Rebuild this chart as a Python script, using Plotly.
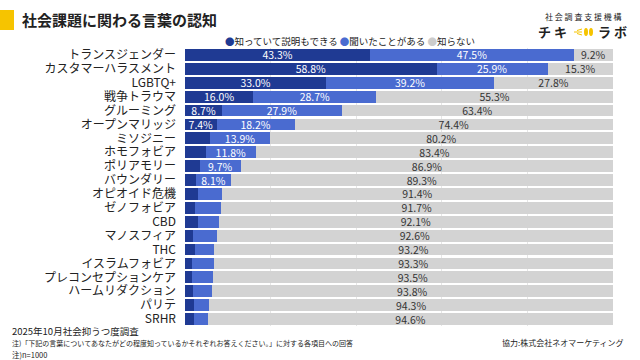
import plotly.graph_objects as go

categories = ["トランスジェンダー", "カスタマーハラスメント", "LGBTQ+", "戦争トラウマ", "グルーミング",
              "オープンマリッジ", "ミソジニー", "ホモフォビア", "ポリアモリー", "バウンダリー",
              "オピオイド危機", "ゼノフォビア", "CBD", "マノスフィア", "THC", "イスラムフォビア",
              "プレコンセプションケア", "ハームリダクション", "パリテ", "SRHR"]
known = [43.3, 58.8, 33.0, 16.0, 8.7, 7.4, 5.9, 4.8, 3.4, 2.6,
         3.0, 2.3, 3.0, 1.9, 2.3, 1.7, 1.6, 1.9, 2.0, 2.0]
heard = [47.5, 25.9, 39.2, 28.7, 27.9, 18.2, 13.9, 11.8, 9.7, 8.1,
         5.6, 6.0, 4.9, 5.5, 4.5, 5.0, 4.9, 4.3, 3.7, 3.4]
unknown = [9.2, 15.3, 27.8, 55.3, 63.4, 74.4, 80.2, 83.4, 86.9, 89.3,
           91.4, 91.7, 92.1, 92.6, 93.2, 93.3, 93.5, 93.8, 94.3, 94.6]
series_names = ["知っていて説明もできる", "聞いたことがある", "知らない"]
colors = ["#1f3a93", "#4a6bd0", "#d3d3d3"]
text_colors = ["white", "white", "#333333"]

FONT = "Noto Sans CJK JP"

def labels(vals):
    return [f"{v:.1f}%" if v >= 7 else "" for v in vals]

fig = go.Figure()
for name, vals, c, tc in zip(series_names, [known, heard, unknown], colors, text_colors):
    fig.add_trace(go.Bar(
        y=categories, x=vals, orientation="h", name=name,
        marker=dict(color=c, line=dict(width=0)),
        text=labels(vals), textposition="inside", insidetextanchor="middle",
        textangle=0, constraintext="none",
        textfont=dict(family=FONT, size=10.5, color=tc),
        showlegend=False, hoverinfo="x+y",
    ))

fig.update_layout(
    width=640, height=360,
    barmode="stack", bargap=0.15,
    margin=dict(l=185, r=27, t=48, b=34, autoexpand=False),
    paper_bgcolor="white", plot_bgcolor="white",
    font=dict(family=FONT, color="#222222"),
    xaxis=dict(range=[0, 100], showticklabels=False, showgrid=True, gridcolor="#e6e6e6",
               dtick=20, zeroline=False, showline=False, fixedrange=True),
    yaxis=dict(autorange="reversed", tickmode="array", tickvals=categories, ticktext=categories,
               tickfont=dict(family=FONT, size=12, color="#222222"),
               ticklabelstandoff=8, showgrid=False, showline=False, ticks="", automargin=False),
)

def px(xp):
    return (xp - 185) / 428
def py(yp):
    return 1 + (48 - yp) / 278

# title with yellow mark
fig.add_shape(type="rect", xref="paper", yref="paper", x0=px(0), x1=px(14),
              y0=py(30), y1=py(10), fillcolor="#f6c400", line=dict(width=0))
fig.add_annotation(text="<b>社会課題に関わる言葉の認知</b>", xref="paper", yref="paper",
                   x=px(20), y=py(20), xanchor="left", yanchor="middle",
                   showarrow=False, font=dict(family=FONT, size=15, color="#222222"))

# legend as text
leg = ("<span style='color:%s'>●</span>%s <span style='color:%s'>●</span>%s "
       "<span style='color:%s'>●</span>%s") % (colors[0], series_names[0], colors[1],
                                               series_names[1], "#cccccc", series_names[2])
fig.add_annotation(text=leg, xref="paper", yref="paper", x=px(223),
                   y=py(41), xanchor="left", yanchor="middle", showarrow=False,
                   font=dict(family=FONT, size=9.5, color="#222222"))

# logo
fig.add_annotation(text="社 会 調 査 支 援 機 構", xref="paper", yref="paper",
                   x=px(583), y=py(16), xanchor="center", yanchor="middle",
                   showarrow=False, font=dict(family=FONT, size=8, color="#222222"))
fig.add_annotation(text="<b>チ キ</b>", xref="paper", yref="paper",
                   x=px(552), y=py(32), xanchor="center", yanchor="middle",
                   showarrow=False, font=dict(family=FONT, size=13, color="#222222"))
fig.add_annotation(text="<b>ラ ボ</b>", xref="paper", yref="paper",
                   x=px(612), y=py(32), xanchor="center", yanchor="middle",
                   showarrow=False, font=dict(family=FONT, size=13, color="#222222"))
for x0, x1 in [(584, 588), (589, 593)]:
    fig.add_shape(type="circle", xref="paper", yref="paper", x0=px(x0), x1=px(x1),
                  y0=py(36), y1=py(28), fillcolor="#f6c400", line=dict(width=0))
for yy in [29, 32, 35]:
    fig.add_shape(type="line", xref="paper", yref="paper", x0=px(582), x1=px(574 if yy == 32 else 577),
                  y0=py(yy), y1=py(32 if yy == 32 else (yy + 32) / 2),
                  line=dict(color="#f6c400", width=1))

# footer
fig.add_annotation(text="2025年10月社会抑うつ度調査", xref="paper", yref="paper",
                   x=px(10), y=py(331), xanchor="left", yanchor="middle", showarrow=False,
                   font=dict(family=FONT, size=9.5, color="#222222"))
fig.add_annotation(text="注)「下記の言葉についてあなたがどの程度知っているかそれぞれお答えください。」に対する各項目への回答",
                   xref="paper", yref="paper", x=px(10), y=py(343), xanchor="left", yanchor="middle",
                   showarrow=False, font=dict(family=FONT, size=7, color="#222222"))
fig.add_annotation(text="注)n=1000", xref="paper", yref="paper", x=px(10), y=py(354),
                   xanchor="left", yanchor="middle", showarrow=False,
                   font=dict(family=FONT, size=7.5, color="#222222"))
fig.add_annotation(text="協力:株式会社ネオマーケティング", xref="paper", yref="paper", x=px(626), y=py(342),
                   xanchor="right", yanchor="middle", showarrow=False,
                   font=dict(family=FONT, size=8, color="#222222"))

fig.write_html("out.html", post_script="document.body.style.margin='0';",
               config={"displayModeBar": False})
